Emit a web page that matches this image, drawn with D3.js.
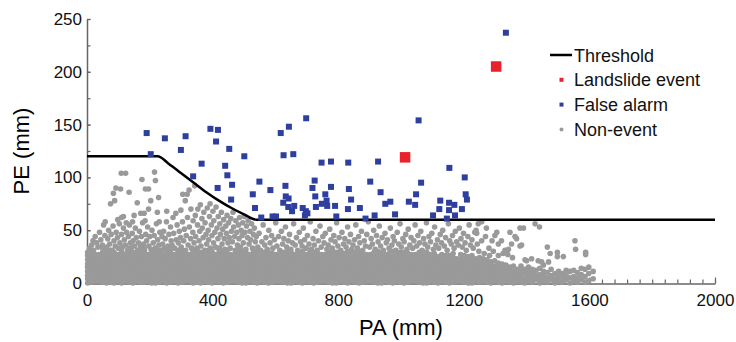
<!DOCTYPE html>
<html>
<head>
<meta charset="utf-8">
<script src="https://cdn.jsdelivr.net/npm/d3@7"></script>
<style>
  body { margin: 0; background: #fff; }
  svg { display: block; font-family: Arial, "Liberation Sans", sans-serif; }
</style>
</head>
<body>
<div id="chart"></div>
<script>
// ---- data ----
const xTicks = [0, 400, 800, 1200, 1600, 2000];
const yTicks = [0, 50, 100, 150, 200, 250];

const thresholdPA = [0, 225, 260, 300, 340, 380, 420, 460, 500, 540, 2000];
const thresholdPE = [120, 120, 113, 104, 95, 86, 78, 71, 65, 60, 60];

const landslidePA = [1013, 1303];
const landslidePE = [119, 205];

const falseAlarms = [
  [190,142],[203,122],[248,137],[299,126],[314,139],[365,113],[393,146],[417,145],[411,134],
  [453,127],[440,111],[501,120],[617,142],[643,148],[698,156],[626,121],[657,122],[747,114],
  [777,115],[832,114],[1334,237],[1056,154],[927,115],[1154,109],[338,101],[447,102],[416,90],
  [462,93],[459,79],[549,96],[528,84],[584,88],[535,71],[555,62],[602,63],[591,63],[632,92],
  [633,82],[642,80],[625,76],[641,72],[660,73],[653,68],[687,71],[697,68],[694,64],[702,66],
  [725,97],[718,90],[727,82],[729,72],[759,84],[763,78],[748,75],[765,73],[777,91],[790,73],
  [794,63],[834,89],[831,70],[869,71],[902,96],[887,61],[916,64],[935,86],[950,75],[1203,100],
  [1064,95],[1048,84],[1206,84],[1210,79],[841,79],[966,77],[1025,77],[1045,74],[981,65],
  [1125,78],[1122,70],[1102,64],[1153,76],[1170,74],[1153,69],[1194,70],[1172,64],[1146,61]
];

// non-events, dense lower band: [PA, PE values in that column]
const nonEventBand = [
  [2,[0,4,7,11,15,18,22,26,29]],[14,[1,3,6,10,13,17,21,24,28,31]],[26,[2,6,9,13,16,19,23,27]],
  [38,[2,5,9,12,16,20,23,27]],[50,[1,5,8,12,15,19,22,26,29,33]],[62,[0,3,7,10,14,17,21,25,30]],
  [74,[1,3,6,10,13,17,21,24,28,31]],[86,[0,4,7,11,15,18,22,26,29]],[98,[2,6,9,13,16,19,23,27]],
  [110,[0,3,7,10,14,17,21,25,30]],[122,[2,5,9,12,16,20,23,27]],[134,[1,5,8,12,15,19,22,26,29,33]],
  [146,[0,4,7,11,15,18,22,26,29]],[158,[2,6,9,13,16,19,23,27]],[170,[1,3,6,10,13,17,21,24,28,31]],
  [182,[1,5,8,12,15,19,22,26,29,33]],[194,[2,5,9,12,16,20,23,27]],[206,[0,3,7,10,14,17,21,25,30]],
  [218,[0,4,7,11,15,18,22,26,29]],[230,[1,3,6,10,13,17,21,24,28,31]],[242,[2,6,9,13,16,19,23,27]],
  [254,[0,3,7,10,14,17,21,25,30]],[266,[1,5,8,12,15,19,22,26,29,33]],[278,[2,5,9,12,16,20,23,27]],
  [290,[0,4,7,11,15,18,22,26,29]],[302,[1,3,6,10,13,17,21,24,28,31]],[314,[2,6,9,13,16,19,23,27]],
  [326,[2,5,9,12,16,20,23,27]],[338,[0,3,7,10,14,17,21,25,30]],[350,[1,5,8,12,15,19,22,26,29,33]],
  [362,[0,4,7,11,15,18,22,26,29]],[374,[2,6,9,13,16,19,23,27]],[386,[1,3,6,10,13,17,21,24,28,31]],
  [398,[0,3,7,10,14,17,21,25,30]],[410,[2,5,9,12,16,20,23,27]],[422,[1,5,8,12,15,19,22,26,29,33]],
  [434,[0,4,7,11,15,18,22,26,29]],[446,[1,3,6,10,13,17,21,24,28,31]],[458,[2,6,9,13,16,19,23,27]],
  [470,[2,5,9,12,16,20,23,27]],[482,[1,5,8,12,15,19,22,26,29,33]],[494,[0,3,7,10,14,17,21,25,30]],
  [506,[0,4,7,11,15,18,22,26,29]],[518,[2,6,9,13,16,19,23,27]],[530,[1,3,6,10,13,17,21,24,28,31]],
  [542,[0,3,7,10,14,17,21,25,30]],[554,[2,5,9,12,16,20,23,27]],[566,[1,5,8,12,15,19,22,26,29]],
  [578,[0,4,7,11,15,18,22,26,29]],[590,[1,3,6,10,13,17,21,24,28]],[602,[2,6,9,13,16,19,23,27]],
  [614,[2,5,9,12,16,20,23,27]],[626,[1,5,8,12,15,19,22,26,29]],[638,[0,3,7,10,14,17,21,25,30]],
  [650,[0,4,7,11,15,18,22,26,29]],[662,[2,6,9,13,16,19,23,27]],[674,[1,3,6,10,13,17,21,24,28]],
  [686,[0,3,7,10,14,17,21,25,30]],[698,[2,5,9,12,16,20,23,27]],[710,[1,5,8,12,15,19,22,26,29]],
  [722,[0,4,7,11,15,18,22,26,29]],[734,[1,3,6,10,13,17,21,24,28]],[746,[2,6,9,13,16,19,23,27]],
  [758,[2,5,9,12,16,20,23,27]],[770,[1,5,8,12,15,19,22,26,29]],[782,[0,3,7,10,14,17,21,25,30]],
  [794,[0,4,7,11,15,18,22,26,29]],[806,[2,6,9,13,16,19,23,27]],[818,[1,3,6,10,13,17,21,24,28]],
  [830,[0,3,7,10,14,17,21,25,30]],[842,[2,5,9,12,16,20,23,27]],[854,[1,5,8,12,15,19,22,26,29]],
  [866,[0,4,7,11,15,18,22,26,29]],[878,[1,3,6,10,13,17,21,24,28]],[890,[2,6,9,13,16,19,23,27]],
  [902,[2,5,9,12,16,20,23,27]],[914,[1,5,8,12,15,19,22,26,29]],[926,[0,3,7,10,14,17,21,25,30]],
  [938,[0,4,7,11,15,18,22,26,29]],[950,[2,6,9,13,16,19,23,27]],[962,[1,3,6,10,13,17,21,24,28]],
  [974,[0,3,7,10,14,17,21,25,30]],[986,[2,5,9,12,16,20,23,27]],[998,[1,5,8,12,15,19,22,26,29]],
  [1010,[0,4,7,11,15,18,22,26,29]],[1022,[1,3,6,10,13,17,21,24,28]],[1034,[2,6,9,13,16,19,23,27]],
  [1046,[2,5,9,12,16,20,23,27]],[1058,[1,5,8,12,15,19,22,26,29]],[1070,[0,3,7,10,14,17,21,25,30]],
  [1082,[0,4,7,11,15,18,22,26,29]],[1094,[2,6,9,13,16,19,23,27]],[1106,[1,3,6,10,13,17,21,24,28]],
  [1118,[0,3,7,10,14,17,21,25]],[1130,[2,5,9,12,16,20,23,27]],[1142,[1,5,8,12,15,19,22,26]],
  [1154,[0,4,7,11,15,18,22,26]],[1166,[1,3,6,10,13,17,21,24,28]],[1178,[2,6,9,13,16,19,23]],
  [1190,[2,5,9,12,16,20,23,27]],[1202,[1,5,8,12,15,19,22,26]],[1214,[0,3,7,10,14,17,21,25]],
  [1226,[0,4,7,11,15,18,22,26]],[1238,[2,6,9,13,16,19,23]],[1250,[1,3,6,10,13,17,21,24]],
  [1262,[2,5,9,12,16,19,23]],[1274,[1,4,8,11,15,18,22]],[1286,[0,3,6,10,13,17,20]],
  [1298,[2,5,9,12,16,21]],[1310,[1,4,8,11,15,19]],[1322,[0,3,7,10,14,18]],
  [1334,[2,6,9,13,17]],[1346,[1,4,8,12,15]],[1358,[0,3,7,11,16]],
  [1370,[2,6,10,13]],[1382,[1,5,8,12,16]],[1394,[0,4,9,13]],
  [1406,[2,6,10,15]],[1418,[1,5,9,13]],[1430,[3,7,12]],
  [1442,[0,4,8,14]],[1454,[2,6,11,17]],[1466,[1,5,10]],
  [1478,[3,7,13]],[1490,[0,4,9]],[1502,[2,6,11]],
  [1514,[1,5,9]],[1526,[3,7,12]],[1538,[0,5,11]],
  [1550,[2,6,12]],[1562,[1,5,10]],[1574,[3,8,14]],
  [1586,[1,6,13]],[1598,[2,9,15]],[1612,[4,11]]
];

// non-events above the dense band: [PA, PE]
const nonEventScatter = [
  [8,33],[15,36],[21,31],[26,44],[31,38],[35,34],[40,48],[44,41],[49,36],[53,55],[57,45],[19,40],[11,30],
  [109,104],[123,104],[215,105],[218,97],[175,98],[186,89],[196,89],[84,85],[107,89],[134,86],[92,90],
  [75,75],[88,78],[160,76],[203,78],[228,81],[58,58],[116,63],[150,64],[171,66],[182,66],[196,70],
  [224,67],[110,62],
  [63,34],[66,42],[69,50],[72,37],[77,46],[80,31],[83,54],[86,40],[90,35],[93,48],[97,43],[100,33],
  [103,56],[105,38],[110,46],[113,34],[116,52],[119,41],[122,36],[126,48],[129,31],[132,44],[135,55],
  [138,38],[141,33],[144,47],[147,40],[151,35],[154,52],[157,43],[161,31],[164,38],[167,49],[170,34],
  [173,44],[177,57],[180,37],[183,31],[187,46],[190,40],[193,53],[197,35],[200,44],[204,32],[207,50],
  [211,38],[214,45],[218,33],[221,56],[225,41],[229,36],[232,48],[236,31],[239,44],[98,60],[145,58],
  [185,59],[230,58],[125,57],
  [241,37],[244,49],[247,33],[249,42],[253,58],[254,68],[258,35],[261,46],[262,31],[266,53],[268,40],
  [271,36],[274,62],[276,47],[279,33],[283,66],[284,41],[287,55],[290,31],[291,38],[294,49],[298,43],
  [299,69],[300,34],[304,58],[305,84],[308,40],[310,51],[313,78],[314,31],[316,45],[319,84],[320,62],
  [322,36],[325,88],[326,53],[330,42],[331,70],[333,33],[337,48],[338,59],[341,38],[343,92],[345,64],
  [346,44],[350,32],[352,55],[353,70],[357,40],[359,49],[361,74],[363,35],[366,61],[367,52],[370,43],
  [372,67],[375,31],[376,57],[379,46],[381,37],[383,71],[386,50],[387,41],[390,63],[392,75],[393,33],
  [396,55],[398,45],[401,68],[403,38],[404,59],[407,48],[410,34],[411,72],[414,52],[417,42],[418,63],
  [421,31],[423,56],[425,46],[428,67],[430,37],[432,51],[435,60],[437,42],[439,32],[442,54],[444,47],
  [446,64],[449,38],[451,57],[453,43],[456,33],[458,61],[460,49],[463,39],[465,67],[467,53],[470,44],
  [472,31],[474,59],[477,48],[479,36],[482,55],[484,42],[486,62],[489,34],[491,50],[494,45],[496,57],
  [498,38],[501,63],[503,48],[506,32],[508,54],[511,43],[513,59],[516,37],[519,49],[521,41],[524,56],
  [527,33],[530,46],[533,52],[536,39],[539,44],
  [544,34],[548,47],[553,31],[557,39],[561,55],[566,36],[570,43],[574,32],[579,50],[583,38],[588,45],
  [592,33],[597,41],[601,57],[605,35],[610,44],[614,31],[619,49],[623,37],[627,42],[632,53],[636,34],
  [641,40],[645,46],[649,32],[654,38],[658,56],[663,36],[667,43],[671,31],[676,48],[680,39],[685,35],
  [689,52],[693,41],[698,33],[702,45],[707,37],[711,58],[715,32],[720,42],[724,36],[729,49],[733,31],
  [737,40],[742,54],[746,34],[751,44],[755,38],[759,47],[764,32],[768,36],[773,51],[777,41],[781,33],
  [786,45],[790,39],[795,57],[799,35],[803,43],[808,31],[812,48],[817,37],[821,42],[825,34],[830,53],
  [834,39],[839,46],[843,32],[847,36],[852,41],[856,55],[861,33],[865,44],[869,38],[874,49],[878,31],
  [883,40],[887,35],[891,46],[896,58],[900,34],[905,42],[909,37],[913,50],[918,32],[922,45],[927,39],
  [931,54],[935,35],[940,43],[944,31],[949,47],[953,38],[957,41],[962,33],[966,52],[971,36],[975,44],
  [979,40],[984,31],[988,48],[993,37],[997,56],[1001,34],[1006,42],[1010,39],[1015,46],[1019,32],
  [1023,51],[1028,36],[1032,43],[1037,33],[1041,40],[1045,55],[1050,35],[1054,45],[1059,38],[1063,49],
  [1067,31],[1072,42],[1076,37],[1081,57],[1085,34],[1089,44],[1094,39],[1098,47],[1103,32],[1107,53],
  [1111,36],[1116,41],[1120,33],[1125,46],[1129,38],[1133,50],[1138,35],[1142,43],[1147,31],[1151,56],
  [1155,40],[1160,37],[1164,45],[1169,33],[1173,49],[1177,39],[1182,36],[1186,52],[1191,42],[1195,34],
  [1199,47],[1204,38],[1208,31],[1213,44],[1217,55],[1221,36],[1226,41],[1230,33],[1235,48],[1239,50],
  [1243,37],[1248,30],
  [1257,58],[1246,56],[1241,47],[1257,40],[1305,48],[1310,37],[1299,45],[1347,48],[1363,44],[1368,42],
  [1352,37],[1331,31],[1342,32],[1384,36],[1427,56],[1441,53],[1379,52],[1390,52],[1379,35],[1466,34],
  [1475,28],[1498,29],[1498,25],[1517,25],[1554,40],[1556,32],[1588,29],[1588,27],[1294,30],[1310,26],
  [1325,28],[1340,27],[1269,44],[1280,33],[1290,40],[1272,52],[1320,40],[1400,21],[1416,23],[1437,21],
  [1448,20],[1395,22],[1265,28],[1282,26],[1355,24],[1470,20]
];

const legendItems = ["Threshold", "Landslide event", "False alarm", "Non-event"];

// ---- chart ----
const width = 736, height = 342;
const colors = { threshold: "#000", landslide: "#e8212b", falseAlarm: "#2f3f9f", nonEvent: "#9a9a9a", axis: "#666" };

const svg = d3.select("#chart").append("svg")
  .attr("width", width)
  .attr("height", height);

const x = d3.scaleLinear().domain([0, 2000]).range([87, 715]);
const y = d3.scaleLinear().domain([0, 250]).range([283, 19]);

const nonEvents = [];
nonEventBand.forEach(c => c[1].forEach(pe => nonEvents.push([c[0], pe])));
nonEventScatter.forEach(p => nonEvents.push(p));

// axes
const xMinor = d3.range(0, 2001, 40);
const yMinor = d3.range(0, 251, 25);

function styleAxis(g) {
  g.select(".domain").attr("stroke", colors.axis).attr("stroke-width", 1.5);
  g.selectAll(".tick line").attr("stroke", colors.axis).attr("stroke-width", 1.2);
  g.selectAll(".tick text").attr("fill", "#111").style("font-size", "17px");
}

svg.append("g")
  .attr("transform", "translate(0,283.5)")
  .call(d3.axisBottom(x).tickValues(xMinor).tickSize(-4).tickSizeOuter(0).tickFormat(""))
  .call(styleAxis);
svg.append("g")
  .attr("transform", "translate(0,283.5)")
  .call(d3.axisBottom(x).tickValues(xTicks).tickSize(-6).tickSizeOuter(0).tickPadding(10).tickFormat(d3.format("d")))
  .call(styleAxis)
  .call(g => g.select(".domain").remove());

svg.append("g")
  .attr("transform", "translate(87,0)")
  .call(d3.axisLeft(y).tickValues(yMinor).tickSize(-3.5).tickSizeOuter(0).tickFormat(""))
  .call(styleAxis);
svg.append("g")
  .attr("transform", "translate(87,0)")
  .call(d3.axisLeft(y).tickValues(yTicks).tickSize(-3.5).tickSizeOuter(0).tickPadding(5).tickFormat(d3.format("d")))
  .call(styleAxis)
  .call(g => g.select(".domain").remove());

// axis titles
svg.append("text")
  .attr("x", x(1000)).attr("y", 335)
  .attr("text-anchor", "middle")
  .style("font-size", "22px")
  .text("PA (mm)");
svg.append("text")
  .attr("transform", "translate(29," + y(125) + ") rotate(-90)")
  .attr("text-anchor", "middle")
  .style("font-size", "22px")
  .text("PE (mm)");

// non-events
svg.append("g").selectAll("circle")
  .data(nonEvents).enter().append("circle")
  .attr("cx", d => x(d[0]))
  .attr("cy", d => y(d[1]))
  .attr("r", 2.8)
  .attr("fill", colors.nonEvent);

// threshold
const thresholdData = thresholdPA.map((pa, i) => [pa, thresholdPE[i]]);
svg.append("path")
  .datum(thresholdData)
  .attr("fill", "none")
  .attr("stroke", colors.threshold)
  .attr("stroke-width", 2.5)
  .attr("d", d3.line().x(d => x(d[0])).y(d => y(d[1])).curve(d3.curveMonotoneX));

// false alarms
const fa = 6;
svg.append("g").selectAll("rect")
  .data(falseAlarms).enter().append("rect")
  .attr("x", d => x(d[0]) - fa / 2)
  .attr("y", d => y(d[1]) - fa / 2)
  .attr("width", fa).attr("height", fa)
  .attr("fill", colors.falseAlarm);

// landslide events
const ls = 10.5;
svg.append("g").selectAll("rect")
  .data(landslidePA.map((pa, i) => [pa, landslidePE[i]])).enter().append("rect")
  .attr("x", d => x(d[0]) - ls / 2)
  .attr("y", d => y(d[1]) - ls / 2)
  .attr("width", ls).attr("height", ls)
  .attr("fill", colors.landslide);

// legend
const legend = svg.append("g").attr("transform", "translate(550,55)");
legendItems.forEach((name, i) => {
  const row = legend.append("g").attr("transform", "translate(0," + (i * 24.8) + ")");
  if (i === 0) {
    row.append("line").attr("x1", 0).attr("x2", 22).attr("y1", 0).attr("y2", 0)
      .attr("stroke", colors.threshold).attr("stroke-width", 2.5);
  } else if (i < 3) {
    row.append("rect").attr("x", 9.5).attr("y", -2).attr("width", 4).attr("height", 4)
      .attr("fill", i === 1 ? colors.landslide : colors.falseAlarm);
  } else {
    row.append("circle").attr("cx", 11.5).attr("cy", 0).attr("r", 2)
      .attr("fill", colors.nonEvent);
  }
  row.append("text")
    .attr("x", 24).attr("y", 6.5)
    .style("font-size", "18px")
    .attr("fill", "#111")
    .text(name);
});
</script>
</body>
</html>
